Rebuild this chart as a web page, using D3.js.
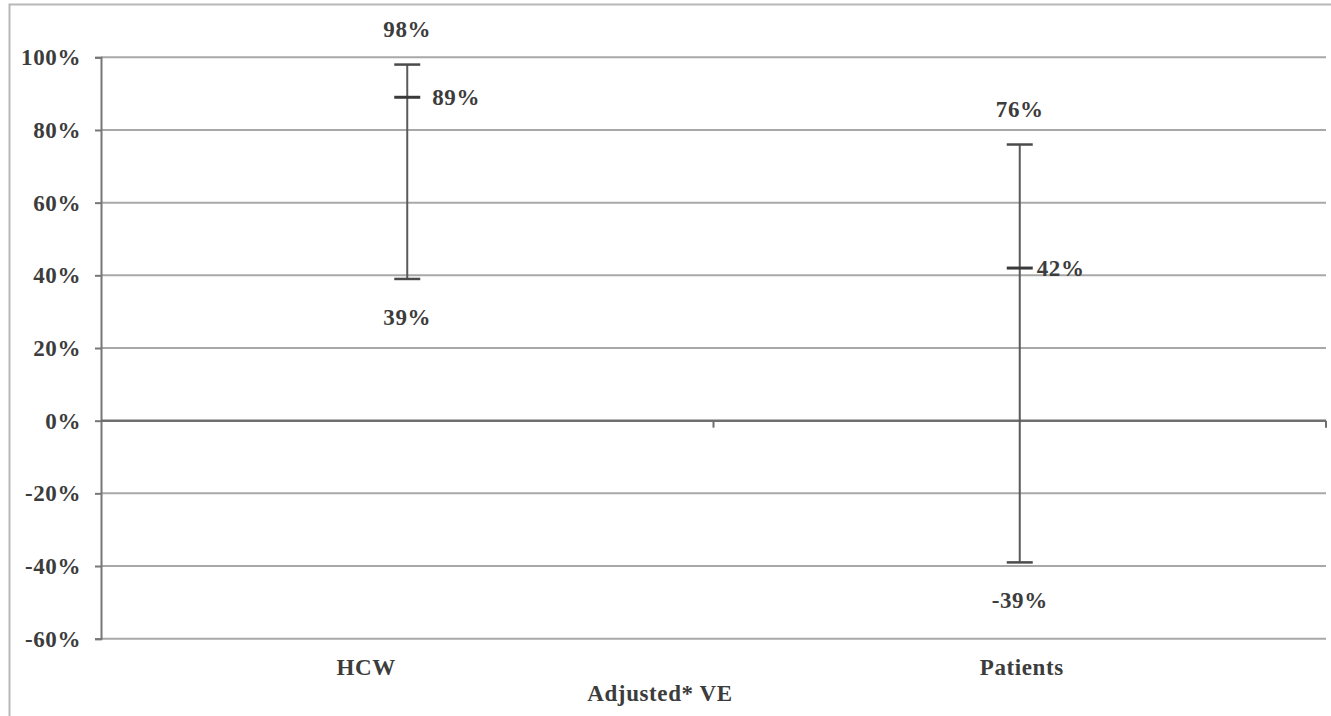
<!DOCTYPE html>
<html>
<head>
<meta charset="utf-8">
<script src="https://cdn.jsdelivr.net/npm/d3@7/dist/d3.min.js"></script>
<style>
  html, body { margin: 0; padding: 0; background: #fff; }
  svg { display: block; }
  text { font-family: "Liberation Serif", "Times New Roman", serif; font-weight: bold; fill: #3c3c3c; letter-spacing: 0.6px; }
</style>
</head>
<body>
<svg id="chart" width="1331" height="716"></svg>
<script>
// Adjusted vaccine effectiveness with 95% confidence intervals
const categories = ["HCW", "Patients"];
const estimate = [89, 42];
const lower = [39, -39];
const upper = [98, 76];
const yTicks = [-60, -40, -20, 0, 20, 40, 60, 80, 100];
const xTitle = "Adjusted* VE";

const svg = d3.select("#chart");
const W = 1331, H = 716;
const plotLeft = 101, plotRight = 1326, plotTop = 57.3, plotBottom = 638.7;
const fontSize = 23;

const x = d3.scaleBand().domain(categories).range([plotLeft, plotRight]).padding(0);
const y = d3.scaleLinear().domain([-60, 100]).range([plotBottom, plotTop]);
const fmt = d => d + "%";

// outer frame (top and left edges)
svg.append("path")
  .attr("d", `M9.5,${H} V4.5 H${W}`)
  .attr("fill", "none").attr("stroke", "#b8b8b8").attr("stroke-width", 2);

// horizontal gridlines
svg.append("g")
  .selectAll("line").data(yTicks.filter(t => t !== 0)).join("line")
  .attr("x1", plotLeft).attr("x2", plotRight)
  .attr("y1", d => y(d)).attr("y2", d => y(d))
  .attr("stroke", "#a8a8a8").attr("stroke-width", 2);

// y axis
const yAxis = svg.append("g").attr("transform", `translate(${plotLeft},0)`)
  .call(d3.axisLeft(y).tickValues(yTicks).tickFormat(fmt).tickSize(6).tickPadding(14));
yAxis.select(".domain").attr("stroke", "#777").attr("stroke-width", 2);
yAxis.selectAll(".tick line").attr("stroke", "#777").attr("stroke-width", 2);
yAxis.selectAll(".tick text")
  .attr("font-family", "Liberation Serif, serif").attr("font-weight", "bold")
  .attr("font-size", fontSize).attr("fill", "#3c3c3c");

// x axis along the zero line, ticks at band edges
const xAxisG = svg.append("g").attr("transform", `translate(0,${y(0)})`);
xAxisG.append("line").attr("x1", plotLeft).attr("x2", plotRight)
  .attr("stroke", "#6e6e6e").attr("stroke-width", 2.5);
xAxisG.selectAll("line.edge").data(categories.slice(1).map(c => x(c)).concat([plotRight]))
  .join("line").attr("class", "edge")
  .attr("x1", d => d).attr("x2", d => d).attr("y1", 0).attr("y2", 7)
  .attr("stroke", "#6e6e6e").attr("stroke-width", 2);

// category labels below the plot
const catShift = { HCW: -41, Patients: 2 };
svg.append("g").selectAll("text").data(categories).join("text")
  .attr("x", d => x(d) + x.bandwidth() / 2 + catShift[d])
  .attr("y", 675)
  .attr("text-anchor", "middle").attr("font-size", fontSize)
  .text(d => d);

// axis title
svg.append("text").attr("x", 660).attr("y", 701)
  .attr("text-anchor", "middle").attr("font-size", fontSize).text(xTitle);

// error bars
const capHalf = 13;
const rows = categories.map((c, i) => ({ c, est: estimate[i], lo: lower[i], hi: upper[i] }));
const bars = svg.append("g").selectAll("g").data(rows).join("g")
  .attr("transform", d => `translate(${x(d.c) + x.bandwidth() / 2},0)`);

bars.append("line").attr("x1", 0).attr("x2", 0)
  .attr("y1", d => y(d.hi)).attr("y2", d => y(d.lo))
  .attr("stroke", "#5a5a5a").attr("stroke-width", 2);
bars.append("line").attr("x1", -capHalf).attr("x2", capHalf)
  .attr("y1", d => y(d.hi)).attr("y2", d => y(d.hi))
  .attr("stroke", "#4a4a4a").attr("stroke-width", 2.5);
bars.append("line").attr("x1", -capHalf).attr("x2", capHalf)
  .attr("y1", d => y(d.lo)).attr("y2", d => y(d.lo))
  .attr("stroke", "#4a4a4a").attr("stroke-width", 2.5);
bars.append("line").attr("x1", -capHalf).attr("x2", capHalf)
  .attr("y1", d => y(d.est)).attr("y2", d => y(d.est))
  .attr("stroke", "#3a3a3a").attr("stroke-width", 3);

// value labels
bars.append("text").attr("text-anchor", "middle").attr("font-size", fontSize)
  .attr("y", d => y(d.hi) - 28).text(d => fmt(d.hi));
bars.append("text").attr("text-anchor", "middle").attr("font-size", fontSize)
  .attr("y", d => y(d.lo) + 46).text(d => fmt(d.lo));
const estShift = { HCW: 25, Patients: 17 };
bars.append("text").attr("text-anchor", "start").attr("font-size", fontSize)
  .attr("x", d => estShift[d.c])
  .attr("y", d => y(d.est) + 8).text(d => fmt(d.est));
</script>
</body>
</html>
